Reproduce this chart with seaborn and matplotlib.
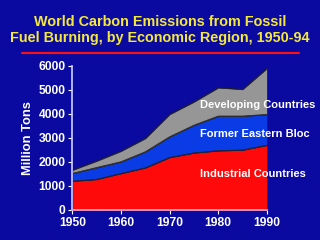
import numpy as np
import pandas as pd
import matplotlib
matplotlib.use("Agg")
import matplotlib.pyplot as plt
import seaborn as sns

years = [1950, 1955, 1960, 1965, 1970, 1975, 1980, 1985, 1990]
industrial = [1205, 1280, 1525, 1760, 2190, 2380, 2470, 2500, 2700]
eastern_bloc = [320, 490, 485, 665, 860, 1150, 1440, 1410, 1280]
developing = [135, 270, 440, 555, 930, 970, 1180, 1110, 1910]
series_names = ["Industrial Countries", "Former Eastern Bloc", "Developing Countries"]
colors = ["#FF0A0A", "#0A3CE6", "#969696"]
yticks = [0, 1000, 2000, 3000, 4000, 5000, 6000]
xticks = [1950, 1960, 1970, 1980, 1990]
title = "World Carbon Emissions from Fossil\nFuel Burning, by Economic Region, 1950-94"
ylabel = "Million Tons"

df = pd.DataFrame({"year": years, series_names[0]: industrial,
                   series_names[1]: eastern_bloc, series_names[2]: developing})

sns.set_theme(style="white")
plt.rcParams["font.family"] = ["Liberation Sans", "DejaVu Sans"]
bg = "#0A0AA0"
fg = "#FFFFFF"

fig = plt.figure(figsize=(3.2, 2.4), dpi=100, facecolor=bg)
ax = fig.add_axes([0.226, 0.125, 0.608, 0.601])
ax.set_facecolor(bg)

ax.stackplot(df["year"], df[series_names[0]], df[series_names[1]], df[series_names[2]],
             colors=colors, edgecolor="#202020", linewidth=0.5)
cum = np.cumsum(np.array([industrial, eastern_bloc, developing]), axis=0)
for row in cum:
    sns.lineplot(x=years, y=row, ax=ax, color="#202020", linewidth=0.5)

ax.set_xlim(1950, 1990)
ax.set_ylim(0, 6000)
ax.set_xticks(xticks)
ax.set_yticks(yticks)
ax.tick_params(colors=fg, labelsize=8.7, length=3, width=0.8, direction="out", pad=2)
for lab in ax.get_xticklabels() + ax.get_yticklabels():
    lab.set_fontweight("bold")
sns.despine(ax=ax, top=True, right=True)
ax.spines["left"].set_color("#C8C8FF")
ax.spines["bottom"].set_color("#E8A0E0")
ax.tick_params(axis="both", which="both", bottom=True, left=True)
ax.set_ylabel(ylabel, color=fg, fontsize=9.3, fontweight="bold", labelpad=3)

label_pos = [(1976.2, 1497), (1976.2, 3148), (1976.2, 4366)]
for name, (lx, ly) in zip(series_names, label_pos):
    ax.text(lx, ly, name, color=fg, fontsize=8, fontweight="bold",
            ha="left", va="center", clip_on=False)

fig.text(0.5, 0.938, title, color="#F5E83C", fontsize=10.4, fontweight="bold",
         ha="center", va="top", linespacing=1.15)
fig.add_artist(plt.Line2D([0.068, 0.934], [0.778, 0.778], color="#FF1010",
                          linewidth=1.5, transform=fig.transFigure))

fig.savefig("out.png", dpi=100, facecolor=bg)
